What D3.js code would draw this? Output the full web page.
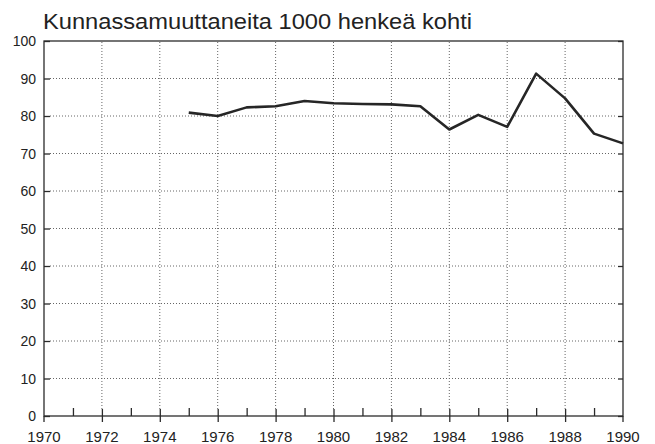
<!DOCTYPE html>
<html>
<head>
<meta charset="utf-8">
<script src="https://cdn.jsdelivr.net/npm/d3@7"></script>
<style>
body { margin: 0; background: #fff; }
text { font-family: "Liberation Sans", Arial, sans-serif; fill: #222; }
</style>
</head>
<body>
<div class="chart"></div>
<script>
var width = 655, height = 444;

var years = [1975, 1976, 1977, 1978, 1979, 1980, 1981, 1982, 1983, 1984, 1985, 1986, 1987, 1988, 1989, 1990];
var values = [80.9, 80.0, 82.3, 82.6, 84.0, 83.4, 83.2, 83.1, 82.6, 76.4, 80.3, 77.1, 91.3, 84.7, 75.3, 72.7];
var yTicks = [0, 10, 20, 30, 40, 50, 60, 70, 80, 90, 100];
var xMajor = [1970, 1972, 1974, 1976, 1978, 1980, 1982, 1984, 1986, 1988, 1990];
var xMinor = [1971, 1973, 1975, 1977, 1979, 1981, 1983, 1985, 1987, 1989];
var title = "Kunnassamuuttaneita 1000 henkeä kohti";

var svg = d3.select(".chart").append("svg")
  .attr("width", width)
  .attr("height", height);

var x = d3.scaleLinear().domain([1970, 1990]).range([44, 623]);
var y = d3.scaleLinear().domain([0, 100]).range([416, 41]);

var ink = "#2b2b2b";

// dotted grid
svg.append("g")
  .selectAll("line")
  .data(yTicks.slice(1, -1))
  .enter().append("line")
  .attr("x1", x(1970) + 6).attr("x2", x(1990) - 8)
  .attr("y1", function(d) { return y(d); })
  .attr("y2", function(d) { return y(d); })
  .attr("stroke", "#666")
  .attr("stroke-width", 1)
  .attr("stroke-dasharray", "1,2");

svg.append("g")
  .selectAll("line")
  .data(xMajor.slice(1, -1))
  .enter().append("line")
  .attr("x1", function(d) { return x(d); })
  .attr("x2", function(d) { return x(d); })
  .attr("y1", y(0) - 7).attr("y2", y(100))
  .attr("stroke", "#666")
  .attr("stroke-width", 1)
  .attr("stroke-dasharray", "1,2");

// frame
svg.append("rect")
  .attr("x", x(1970)).attr("y", y(100))
  .attr("width", x(1990) - x(1970))
  .attr("height", y(0) - y(100))
  .attr("fill", "none")
  .attr("stroke", ink)
  .attr("stroke-width", 1.3);

// side lines run a little below the base line
svg.selectAll(".sideExt")
  .data([1970, 1990])
  .enter().append("line")
  .attr("x1", function(d) { return x(d); })
  .attr("x2", function(d) { return x(d); })
  .attr("y1", y(0)).attr("y2", y(0) + 6)
  .attr("stroke", ink)
  .attr("stroke-width", 1.3);

// x axis: major ticks cross the base line, minor ticks point up
var xAxis = svg.append("g")
  .attr("transform", "translate(0," + (y(0) + 6) + ")")
  .call(d3.axisTop(x).tickValues(xMajor.slice(1, -1)).tickSize(13).tickFormat(""));
xAxis.select(".domain").remove();
xAxis.selectAll("line").attr("stroke", ink).attr("stroke-width", 1.3);

var xMinorAxis = svg.append("g")
  .attr("transform", "translate(0," + y(0) + ")")
  .call(d3.axisTop(x).tickValues(xMinor).tickSize(8).tickFormat(""));
xMinorAxis.select(".domain").remove();
xMinorAxis.selectAll("line").attr("stroke", ink).attr("stroke-width", 1.3);

svg.append("g")
  .selectAll("text")
  .data(xMajor)
  .enter().append("text")
  .attr("x", function(d) { return x(d); })
  .attr("y", 442)
  .attr("text-anchor", "middle")
  .attr("font-size", "15px")
  .text(function(d) { return d; });

// y axis ticks pointing inward
var yAxis = svg.append("g")
  .attr("transform", "translate(" + x(1970) + ",0)")
  .call(d3.axisRight(y).tickValues(yTicks).tickSize(6).tickFormat(""));
yAxis.select(".domain").remove();
yAxis.selectAll("line").attr("stroke", ink).attr("stroke-width", 1.3);

var yRight = svg.append("g")
  .attr("transform", "translate(" + x(1990) + ",0)")
  .call(d3.axisLeft(y).tickValues(yTicks).tickSize(5).tickFormat(""));
yRight.select(".domain").remove();
yRight.selectAll("line").attr("stroke", ink).attr("stroke-width", 1.3);

svg.append("g")
  .selectAll("text")
  .data(yTicks)
  .enter().append("text")
  .attr("x", 36)
  .attr("y", function(d) { return y(d) + 5; })
  .attr("text-anchor", "end")
  .attr("font-size", "14px")
  .text(function(d) { return d; });

// data line
var line = d3.line()
  .x(function(d, i) { return x(years[i]); })
  .y(function(d) { return y(d); });

svg.append("path")
  .datum(values)
  .attr("d", line)
  .attr("fill", "none")
  .attr("stroke", "#262626")
  .attr("stroke-width", 2.6)
  .attr("stroke-linejoin", "round");

svg.append("text")
  .attr("x", 43)
  .attr("y", 29)
  .attr("font-size", "22px")
  .attr("textLength", 429)
  .attr("lengthAdjust", "spacingAndGlyphs")
  .text(title);
</script>
</body>
</html>
